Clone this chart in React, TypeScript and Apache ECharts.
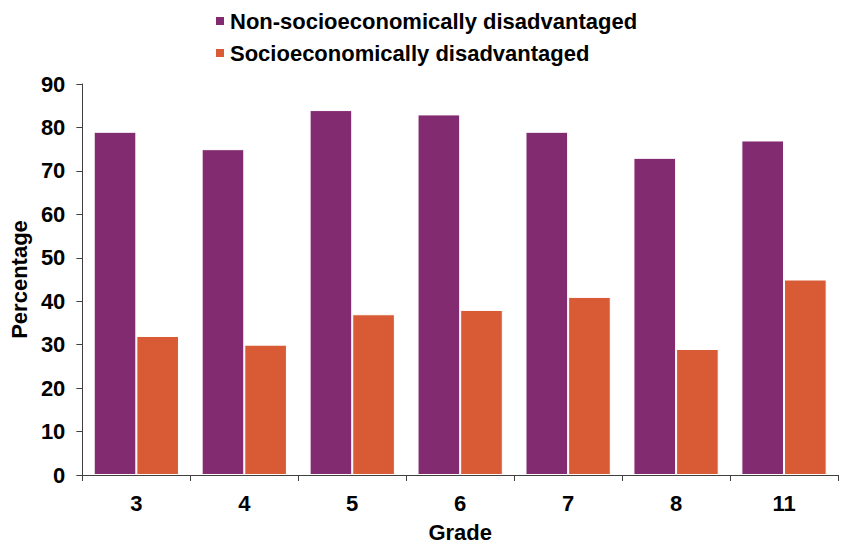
import React, { useEffect, useRef } from "react";
import * as echarts from "echarts";

const grades = ["3", "4", "5", "6", "7", "8", "11"];
const nonDisadvantaged = [79, 75, 84, 83, 79, 73, 77];
const disadvantaged = [32, 30, 37, 38, 41, 29, 45];
const seriesNames = ["Non-socioeconomically disadvantaged", "Socioeconomically disadvantaged"];

const FONT = "Liberation Sans, Arial, sans-serif";

export default function App() {
  const ref = useRef<HTMLDivElement>(null);
  useEffect(() => {
    if (!ref.current) return;
    const chart = echarts.init(ref.current, undefined, { renderer: "svg" });
    const axisLine = { show: true, lineStyle: { color: "#404040", width: 1 } };
    const txt = { fontFamily: FONT, fontWeight: "bold", fontSize: 22, color: "#000" };
    chart.setOption({
      animation: false,
      legend: {
        orient: "vertical",
        left: 209,
        top: 5,
        itemWidth: 10,
        itemHeight: 10,
        itemGap: 10,
        icon: "rect",
        textStyle: { ...txt },
        data: seriesNames,
      },
      grid: { left: 80, right: 5, top: 84, bottom: 67, containLabel: false },
      xAxis: {
        type: "category",
        data: grades,
        name: "Grade",
        nameLocation: "middle",
        nameGap: 46,
        nameTextStyle: { ...txt },
        axisLine,
        axisTick: { show: true, length: 6, alignWithLabel: false, lineStyle: { color: "#404040" } },
        axisLabel: { margin: 17, ...txt },
        splitLine: { show: false },
      },
      yAxis: {
        type: "value",
        min: 0,
        max: 90,
        interval: 10,
        name: "Percentage",
        nameLocation: "middle",
        nameGap: 50,
        nameTextStyle: { ...txt },
        axisLine,
        axisTick: { show: true, length: 6, lineStyle: { color: "#404040" } },
        axisLabel: { margin: 17, ...txt },
        splitLine: { show: false },
      },
      series: [
        {
          name: seriesNames[0],
          type: "bar",
          data: nonDisadvantaged,
          barGap: "0%",
          barCategoryGap: "21%",
          itemStyle: { color: "#832B70", borderColor: "#ffffff", borderWidth: 1 },
        },
        {
          name: seriesNames[1],
          type: "bar",
          data: disadvantaged,
          barGap: "0%",
          barCategoryGap: "21%",
          itemStyle: { color: "#D95B35", borderColor: "#ffffff", borderWidth: 1 },
        },
      ],
    });
    return () => chart.dispose();
  }, []);
  return <div ref={ref} style={{ width: 843, height: 548, position: "absolute", left: 0, top: 0 }} />;
}
